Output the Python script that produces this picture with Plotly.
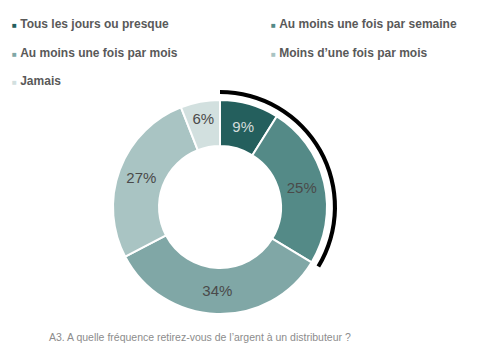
import plotly.graph_objects as go

categories = ["Tous les jours ou presque", "Au moins une fois par semaine",
              "Au moins une fois par mois", "Moins d\u2019une fois par mois", "Jamais"]
values = [9, 25, 34, 27, 6]
colors = ["#245f5d", "#548a87", "#80a7a6", "#a9c4c3", "#d2e0df"]
text_colors = ["#d5dcdc", "#4a4a4a", "#4a4a4a", "#4a4a4a", "#4a4a4a"]
highlight_count = 2  # first two slices are highlighted by the black arc
caption = "A3. A quelle fr\u00e9quence retirez-vous de l\u2019argent \u00e0 un distributeur ?"

OFF = 8  # default page body margin
W, H = 487 - OFF, 356 - OFF
cx, cy = 220 - OFF, 207 - OFF
r_out = 107
r_arc = 117

def dom(r):
    return dict(x=[(cx - r) / W, (cx + r) / W], y=[(H - cy - r) / H, (H - cy + r) / H])

fig = go.Figure()

fig.add_trace(go.Pie(
    labels=categories, values=values, sort=False, direction="clockwise", rotation=0,
    hole=0.57, domain=dom(r_out),
    marker=dict(colors=colors, line=dict(color="white", width=2)),
    texttemplate="%{value}%", textinfo="text", textposition="inside",
    insidetextorientation="horizontal",
    textfont=dict(color=text_colors, size=15, family="Liberation Sans"),
    showlegend=False, hoverinfo="label+value",
))

hl = sum(values[:highlight_count])
fig.add_trace(go.Pie(
    values=[hl, sum(values) - hl], sort=False, direction="clockwise", rotation=0,
    hole=0.965, domain=dom(r_arc),
    marker=dict(colors=["#000000", "rgba(0,0,0,0)"], line=dict(width=0)),
    textinfo="none", showlegend=False, hoverinfo="skip",
))

# one legend box per entry, laid out as a 2-column grid like the reference;
# the small coloured square sits right next to the text, as in the reference
legend_ids = ["legend", "legend2", "legend3", "legend4", "legend5"]
for c, col, lg in zip(categories, colors, legend_ids):
    fig.add_trace(go.Scatter(
        x=[None], y=[None], mode="markers", legend=lg,
        name='<span style="color:%s;font-size:8px">\u25a0</span> <b>%s</b>' % (col, c),
        marker=dict(symbol="square", size=1, color="rgba(0,0,0,0)",
                    line=dict(width=0, color="rgba(0,0,0,0)")),
    ))

fig.add_annotation(
    text=caption, x=(47 - OFF) / W, y=(H - (337 - OFF)) / H, xref="paper", yref="paper",
    xanchor="left", yanchor="middle", showarrow=False,
    font=dict(size=10.5, color="#8c8c8c", family="Liberation Sans"),
)

leg_common = dict(
    orientation="h", xanchor="left", yanchor="middle", indentation=-15,
    itemwidth=30,
    font=dict(size=12, color="#595959", family="Liberation Sans"),
    itemsizing="trace", bgcolor="rgba(0,0,0,0)",
)
col_x = [(12 - 25 - OFF) / W, (271 - 25 - OFF) / W]   # column left positions
row_y = [23 - OFF, 52 - OFF, 80 - OFF]                # row centre positions (px from top)

def leg(i):
    return dict(leg_common, x=col_x[i % 2], y=(H - row_y[i // 2]) / H)

fig.update_layout(
    width=W, height=H, margin=dict(l=0, r=0, t=0, b=0, autoexpand=False),
    paper_bgcolor="white", plot_bgcolor="white",
    xaxis=dict(visible=False, domain=[0, 1]), yaxis=dict(visible=False, domain=[0, 1]),
    legend=leg(0), legend2=leg(1), legend3=leg(2), legend4=leg(3), legend5=leg(4),
)

fig.write_html("out.html")
